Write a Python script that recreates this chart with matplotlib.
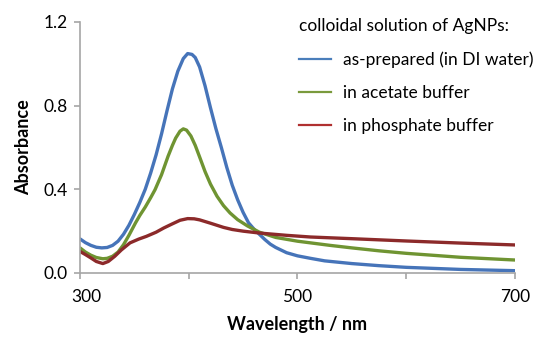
import numpy as np
import matplotlib
matplotlib.use('Agg')
from matplotlib import pyplot as plt
from matplotlib.lines import Line2D
from matplotlib.transforms import ScaledTranslation

plt.rcParams['font.family'] = ['Lato', 'DejaVu Sans']

# spectra (wavelength in nm, absorbance)
wl_water = [300, 305, 310, 315, 320, 325, 330, 335, 340, 345, 350, 355, 360, 365, 370, 375,
            380, 385, 390, 395, 399, 403, 406, 410, 415, 420, 425, 430, 435, 440, 445, 450,
            455, 460, 465, 470, 475, 480, 490, 500, 512, 525, 550, 575, 600, 650, 700]
abs_water = [0.163, 0.145, 0.132, 0.123, 0.120, 0.122, 0.132, 0.152, 0.185, 0.228, 0.280, 0.337,
             0.400, 0.478, 0.565, 0.665, 0.775, 0.880, 0.965, 1.025, 1.049, 1.045, 1.030, 0.985,
             0.895, 0.790, 0.690, 0.600, 0.505, 0.420, 0.350, 0.290, 0.240, 0.210, 0.185, 0.160,
             0.138, 0.122, 0.097, 0.082, 0.070, 0.058, 0.045, 0.035, 0.027, 0.017, 0.011]

wl_acetate = [300, 305, 310, 315, 321, 325, 330, 335, 340, 345, 351, 355, 360, 365, 369, 375,
              381, 385, 388, 392, 395, 398, 402, 406, 410, 415, 420, 426, 432, 438, 445, 454,
              465, 480, 500, 512, 530, 550, 575, 600, 650, 700]
abs_acetate = [0.120, 0.100, 0.085, 0.074, 0.068, 0.070, 0.080, 0.100, 0.135, 0.180, 0.239, 0.275,
               0.315, 0.360, 0.398, 0.470, 0.558, 0.610, 0.645, 0.678, 0.689, 0.683, 0.655, 0.610,
               0.555, 0.485, 0.425, 0.367, 0.322, 0.287, 0.255, 0.225, 0.195, 0.170, 0.152, 0.144,
               0.132, 0.120, 0.106, 0.094, 0.075, 0.062]

wl_phosphate = [300, 305, 310, 315, 321, 326, 332, 338, 346, 354, 361, 370, 377, 385, 392, 399,
                405, 410, 420, 432, 440, 450, 465, 490, 512, 550, 600, 650, 700]
abs_phosphate = [0.103, 0.088, 0.072, 0.055, 0.045, 0.055, 0.080, 0.110, 0.144, 0.162, 0.175, 0.195,
                 0.215, 0.235, 0.252, 0.260, 0.259, 0.254, 0.238, 0.218, 0.208, 0.200, 0.191, 0.180,
                 0.172, 0.164, 0.153, 0.143, 0.134]

labels = ['as-prepared (in DI water)', 'in acetate buffer', 'in phosphate buffer']
colors = ['#4674b9', '#6f9432', '#8c2a2a']
legend_colors = ['#4a7ebb', '#7a9a3c', '#b03030']

fig = plt.figure(figsize=(5.42, 3.42), dpi=100)
ax = fig.add_axes([0.1476, 0.2018, 0.8024, 0.7339])

series = [(wl_water, abs_water), (wl_acetate, abs_acetate), (wl_phosphate, abs_phosphate)]
for (x, y), c in zip(series, colors):
	ax.plot(x, y, color=c, lw=2.4, solid_joinstyle='round', solid_capstyle='round')

ax.set_xlim(300, 700)
ax.set_ylim(0, 1.2)
ax.set_xticks([300, 400, 500, 600, 700])
ax.set_xticklabels(['300', '', '500', '', '700'])
ax.set_yticks([0, 0.4, 0.8, 1.2])
ax.set_yticklabels(['0.0', '0.4', '0.8', '1.2'])

for s in ['top', 'right']:
	ax.spines[s].set_visible(False)
for s in ['left', 'bottom']:
	ax.spines[s].set_color('#a6a6a6')
	ax.spines[s].set_linewidth(1.2)
ax.tick_params(colors='#a6a6a6', labelcolor='black', length=4.5, width=1.2, labelsize=12.5)
ax.tick_params(axis='x', pad=7)
ax.tick_params(axis='y', pad=4.5)

# first x label sits a bit right of its tick, as in the original
first = ax.get_xticklabels()[0]
first.set_transform(first.get_transform() + ScaledTranslation(6.5 / 100, 0, fig.dpi_scale_trans))

ax.set_xlabel('Wavelength / nm', fontsize=13, fontweight='bold', labelpad=8)
ax.set_ylabel('Absorbance', fontsize=13, fontweight='bold', labelpad=8)

handles = [Line2D([0], [0], color=c, lw=1.6) for c in legend_colors]
leg = ax.legend(handles, labels, title='colloidal solution of AgNPs:', loc='upper left',
                bbox_to_anchor=(0.475, 1.063), frameon=False, fontsize=12.5, title_fontsize=12.5,
                handlelength=1.85, handletextpad=0.7, labelspacing=0.98, alignment='left',
                borderpad=0.2)

fig.savefig('out.png', dpi=100)
